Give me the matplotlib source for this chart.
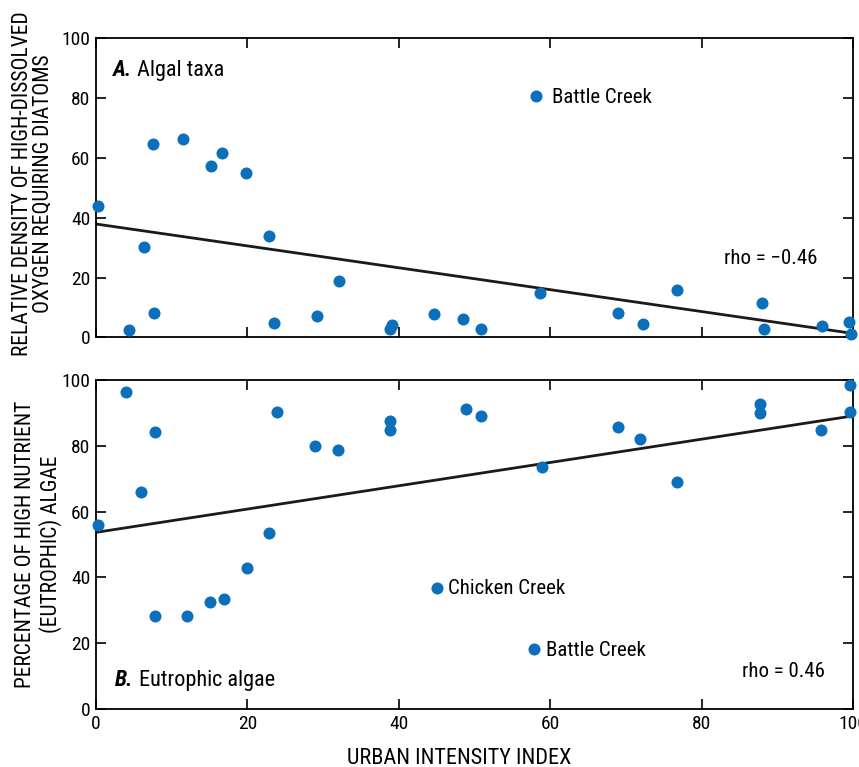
import matplotlib
matplotlib.use("Agg")
import matplotlib.pyplot as plt
from matplotlib import font_manager as fm
from matplotlib.transforms import offset_copy
import numpy as np

# pick a condensed sans font if one is installed
_entries = fm.fontManager.ttflist
_family, _stretch = 'DejaVu Sans', 'normal'
for cand in ['Liberation Sans Narrow', 'Roboto Condensed', 'Open Sans Condensed',
             'DejaVu Sans Condensed', 'Noto Sans Condensed']:
    if any(e.name == cand for e in _entries):
        _family = cand
        break
else:
    for cand in ['DejaVu Sans', 'Noto Sans', 'Roboto', 'Open Sans', 'Liberation Sans']:
        if any(e.name == cand and str(e.stretch) in ('condensed', 'semi-condensed', '87.5', '75')
               for e in _entries):
            _family, _stretch = cand, 'condensed'
            break
plt.rcParams['font.family'] = [_family, 'DejaVu Sans']
plt.rcParams['font.stretch'] = _stretch

# Panel A: relative density of high-DO requiring diatoms
a_x = [0.2, 4.3, 6.3, 7.5, 7.7, 11.5, 15.2, 16.6, 19.8, 22.8, 23.5, 29.2, 32.1,
       38.9, 39.1, 44.6, 48.5, 50.8, 58.1, 58.7, 69.0, 72.3, 76.7, 88.0, 88.2,
       95.9, 99.5, 99.8]
a_y = [43.9, 2.4, 30.1, 64.5, 8.0, 66.5, 57.4, 61.7, 55.0, 34.0, 4.8, 7.2, 18.7,
       2.9, 4.0, 7.7, 6.2, 2.9, 80.8, 14.8, 8.1, 4.3, 15.8, 11.5, 2.9,
       3.9, 5.2, 1.1]
a_line_x = [0, 100]
a_line_y = [37.9, 1.3]

# Panel B: percentage of eutrophic algae
b_x = [0.2, 3.9, 6.0, 7.8, 7.8, 12.0, 15.0, 16.9, 19.9, 22.9, 23.9, 28.9, 32.0,
       38.9, 38.9, 45.0, 48.9, 50.8, 57.8, 58.9, 68.9, 71.9, 76.8, 87.7, 87.7,
       95.8, 99.6, 99.6]
b_y = [56.0, 96.4, 66.0, 84.3, 28.2, 28.2, 32.5, 33.4, 42.9, 53.4, 90.4, 79.9, 78.6,
       87.7, 84.7, 36.9, 91.3, 89.1, 18.1, 73.5, 85.6, 82.2, 69.1, 92.6, 90.0,
       84.7, 98.5, 90.3]
b_line_x = [0, 100]
b_line_y = [53.7, 89.1]

ticks = [0, 20, 40, 60, 80, 100]
color = '#0B6FBB'
fs_tick = 14
fs_ann = 15
fs_lab = 15.5
fs_title = 16

fig = plt.figure(figsize=(8.59, 7.67), dpi=100)
ax1 = fig.add_axes([0.1118, 0.5602, 0.8812, 0.3898])
ax2 = fig.add_axes([0.1118, 0.0756, 0.8812, 0.4289])

for ax in (ax1, ax2):
    ax.set_xlim(0, 100)
    ax.set_ylim(0, 100)
    ax.set_xticks(ticks)
    ax.set_yticks(ticks)
    ax.tick_params(direction='in', length=7, width=1.2, top=True, right=True,
                   labelsize=fs_tick, pad=4)
    for s in ax.spines.values():
        s.set_linewidth(1.3)

ax1.tick_params(labelbottom=False)

ax1.scatter(a_x, a_y, s=75, color=color, zorder=3, clip_on=False, linewidths=0)
ax1.plot(a_line_x, a_line_y, color='#1a1a1a', lw=2, zorder=2)
ax2.scatter(b_x, b_y, s=75, color=color, zorder=3, clip_on=False, linewidths=0)
ax2.plot(b_line_x, b_line_y, color='#1a1a1a', lw=2, zorder=2)

tA = ax1.text(2.2, 89.4, 'A.', fontsize=fs_title, fontweight='bold', fontstyle='italic',
              va='center', ha='left')
tB = ax2.text(2.5, 8.8, 'B.', fontsize=fs_title, fontweight='bold', fontstyle='italic',
              va='center', ha='left')
ax1.text(60.3, 80.3, 'Battle Creek', fontsize=fs_ann, va='center', ha='left')
ax1.text(83.0, 26.5, 'rho = \u22120.46', fontsize=fs_ann, va='center', ha='left')
ax2.text(46.5, 36.7, 'Chicken Creek', fontsize=fs_ann, va='center', ha='left')
ax2.text(59.5, 17.9, 'Battle Creek', fontsize=fs_ann, va='center', ha='left')
ax2.text(85.3, 11.3, 'rho = 0.46', fontsize=fs_ann, va='center', ha='left')

ax1.set_ylabel('RELATIVE DENSITY OF HIGH-DISSOLVED\nOXYGEN REQUIRING DIATOMS',
               fontsize=fs_lab, linespacing=0.95, va='center')
ax1.yaxis.set_label_coords((33 - 96) / 757, (337.3 - 184) / 299)
ax2.set_ylabel('PERCENTAGE OF HIGH NUTRIENT\n(EUTROPHIC) ALGAE',
               fontsize=fs_lab, linespacing=1.2, va='center')
ax2.yaxis.set_label_coords((38.5 - 96) / 757, 0.5)
ax2.set_xlabel('URBAN INTENSITY INDEX', fontsize=fs_lab + 0.5, va='center')
ax2.xaxis.set_label_coords((459 - 96) / 757, (709 - 758) / 329)

# place the panel titles right after the bold-italic letters
fig.canvas.draw()
r = fig.canvas.get_renderer()
for ax, t, label, (x0, y0) in [(ax1, tA, 'Algal taxa', (2.2, 89.4)),
                               (ax2, tB, 'Eutrophic algae', (2.5, 8.8))]:
    bb = t.get_window_extent(r)
    w_pts = (bb.x1 - bb.x0) * 72 / fig.dpi + 4
    tr = offset_copy(ax.transData, fig=fig, x=w_pts, y=0, units='points')
    ax.text(x0, y0, label, fontsize=fs_title, va='center', ha='left', transform=tr)

fig.savefig('out.png', dpi=100)
